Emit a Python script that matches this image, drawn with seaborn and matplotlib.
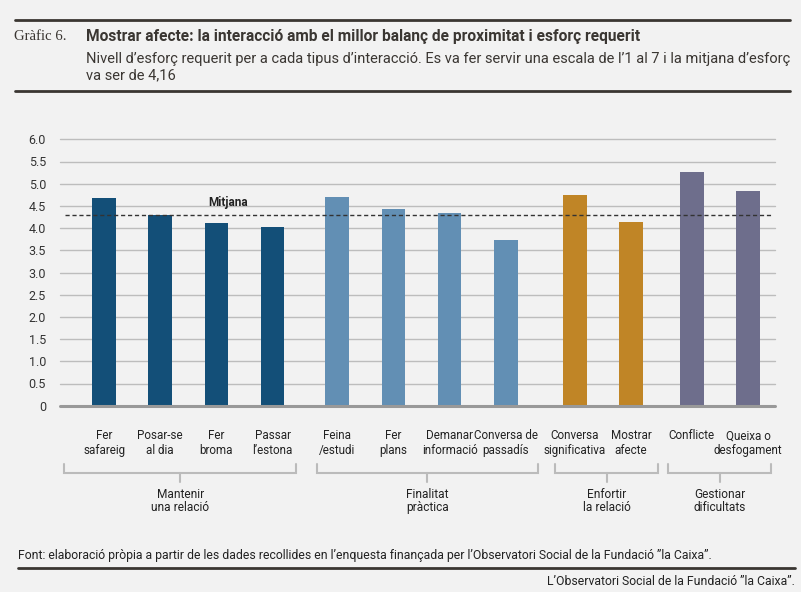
import matplotlib
matplotlib.use("Agg")
import matplotlib.pyplot as plt
import matplotlib.transforms as mtransforms
from matplotlib.lines import Line2D
import seaborn as sns
import pandas as pd
import numpy as np

# ---- data ----
categories = ["Fer\nsafareig", "Posar-se\nal dia", "Fer\nbroma", "Passar\nl’estona",
              "Feina\n/estudi", "Fer\nplans", "Demanar\ninformació", "Conversa de\npassadís",
              "Conversa\nsignificativa", "Mostrar\nafecte",
              "Conflicte", "Queixa o\ndesfogament"]
values = [4.68, 4.29, 4.12, 4.03, 4.69, 4.43, 4.35, 3.73, 4.74, 4.14, 5.26, 4.84]
group_of = [0, 0, 0, 0, 1, 1, 1, 1, 2, 2, 3, 3]
group_names = ["Mantenir\nuna relació", "Finalitat\npràctica", "Enfortir\nla relació", "Gestionar\ndificultats"]
group_colors = ["#134f78", "#628fb4", "#c08526", "#6e6e8c"]
mean_value = 4.29
yticks = [0, 0.5, 1.0, 1.5, 2.0, 2.5, 3.0, 3.5, 4.0, 4.5, 5.0, 5.5, 6.0]
ytick_labels = ["0", "0.5", "1.0", "1.5", "2.0", "2.5", "3.0", "3.5", "4.0", "4.5", "5.0", "5.5", "6.0"]

# layout: extra gap between groups
group_offset = [0.0, 0.15, 0.38, 0.46]
positions = [i + group_offset[g] for i, g in enumerate(group_of)]

df = pd.DataFrame({"pos": positions, "value": values,
                   "group": [group_names[g] for g in group_of]})

BG = "#f2f2f2"
sns.set_theme(style="white")
plt.rcParams["font.family"] = ["Roboto", "DejaVu Sans"]

W, H = 801, 592
fig = plt.figure(figsize=(W / 100, H / 100), dpi=100, facecolor=BG)

def fy(py):
    return 1 - py / H

def fx(px):
    return px / W

ax = fig.add_axes([fx(60), fy(405.7), fx(775) - fx(60), fy(139.3) - fy(405.7)])
ax.set_facecolor(BG)

sns.barplot(data=df, x="pos", y="value", hue="group", native_scale=True,
            palette=dict(zip(group_names, group_colors)), hue_order=group_names,
            width=0.42, dodge=False, legend=False, ax=ax, zorder=3,
            saturation=1, edgecolor="none", linewidth=0)

ax.set_ylim(0, 6.0)
ax.set_xlim(-0.785, positions[-1] + 0.48)
ax.set_yticks(yticks)
ax.set_yticklabels(ytick_labels)
for y in yticks[1:]:
    ax.axhline(y, color="#bdbdbd", lw=1.0, zorder=1, clip_on=False)
ax.axhline(0, color="#999999", lw=2.2, zorder=4, clip_on=False)
for s in ax.spines.values():
    s.set_visible(False)
ax.tick_params(axis="y", length=0, pad=10, labelsize=9, labelcolor="#333333")
ax.set_xticks(positions)
ax.set_xticklabels(categories)
ax.tick_params(axis="x", length=0, pad=17, labelsize=8.4, labelcolor="#222222")
ax.set_xlabel("")
ax.set_ylabel("")

# mean line
ax.plot([-0.69, positions[-1] + 0.41], [mean_value, mean_value], color="#333333",
        lw=1.0, ls=(0, (3, 2)), zorder=5, clip_on=False)
ax.text(2.2, mean_value + 0.29, "Mitjana", ha="center", va="center",
        fontsize=8.5, fontweight="bold", color="#222222", zorder=6)

# group brackets
trans = mtransforms.blended_transform_factory(ax.transData, fig.transFigure)
bracket_ext = [(-0.706, 3.42), (3.78, 7.73), (8.03, 9.86), (10.04, 11.87)]
for (x0, x1), name in zip(bracket_ext, group_names):
    ax.plot([x0, x0, x1, x1], [fy(464.3), fy(472.7), fy(472.7), fy(464.3)],
            transform=trans, color="#bbbbbb", lw=1.5, clip_on=False,
            solid_joinstyle="miter")
    xm = (x0 + x1) / 2
    ax.plot([xm, xm], [fy(472.7), fy(481.7)], transform=trans, color="#bbbbbb",
            lw=1.5, clip_on=False)
    ax.text(xm, fy(500.7), name, transform=trans, ha="center", va="center",
            fontsize=8.6, color="#222222", linespacing=1.0)

# header
fig.add_artist(Line2D([fx(14.5), fx(790)], [fy(20), fy(20)], color="#3a3632", lw=2))
fig.add_artist(Line2D([fx(14.5), fx(790)], [fy(90.7), fy(90.7)], color="#3a3632", lw=2))
fig.text(fx(14), fy(37), "Gràfic 6.", fontsize=10.6, family=["Liberation Serif", "DejaVu Serif"],
         color="#3a3632", va="center", ha="left")
fig.text(fx(86), fy(37), "Mostrar afecte: la interacció amb el millor balanç de proximitat i esforç requerit",
         fontsize=11.2, fontweight="bold", color="#3a3632", va="center", ha="left")
fig.text(fx(86), fy(59), "Nivell d’esforç requerit per a cada tipus d’interacció. Es va fer servir una escala de l’1 al 7 i la mitjana d’esforç",
         fontsize=10.5, color="#3a3632", va="center", ha="left")
fig.text(fx(86), fy(75), "va ser de 4,16",
         fontsize=10.5, color="#3a3632", va="center", ha="left")

# footer
fig.text(fx(18), fy(555), "Font: elaboració pròpia a partir de les dades recollides en l’enquesta finançada per l’Observatori Social de la Fundació ”la Caixa”.",
         fontsize=8.85, color="#222222", va="center", ha="left")
fig.add_artist(Line2D([fx(18), fx(795)], [fy(567.5), fy(567.5)], color="#3a3632", lw=2))
fig.text(fx(795), fy(581.5), "L’Observatori Social de la Fundació ”la Caixa”.",
         fontsize=8.85, color="#222222", va="center", ha="right")

fig.savefig("out.png", dpi=100, facecolor=BG)
